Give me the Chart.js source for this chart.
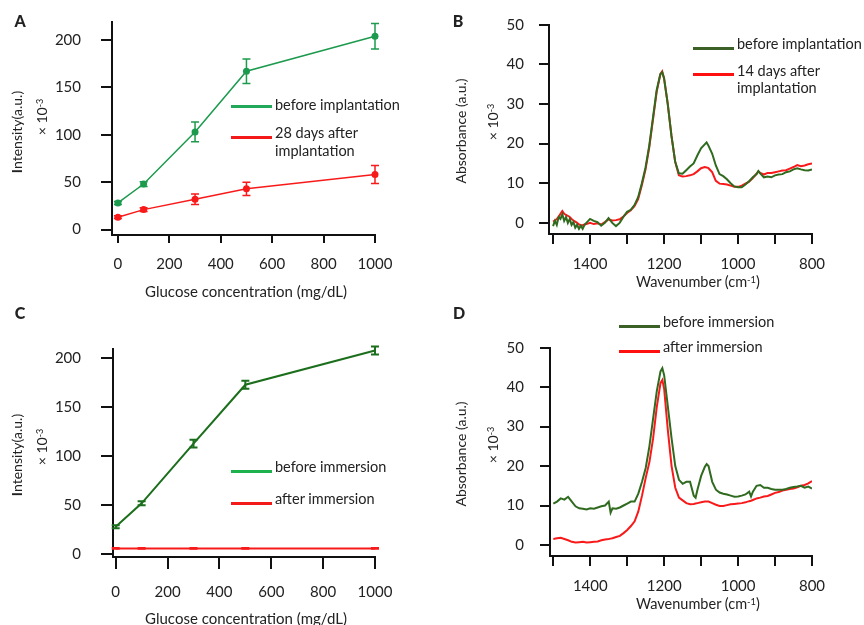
<!DOCTYPE html>
<html>
<head>
<meta charset="utf-8">
<script src="https://cdn.jsdelivr.net/npm/chart.js@4.4.1/dist/chart.umd.min.js"></script>
<style>
  body { margin: 0; background: #fff; }
  #wrap { position: relative; width: 864px; height: 625px; overflow: hidden; font-family: Lato, sans-serif; color: #222; }
  canvas { position: absolute; }
  .t { position: absolute; white-space: nowrap; font-size: 14.5px; line-height: 1; }
  .bar { position: absolute; height: 3px; }
  sup { font-size: 0.65em; vertical-align: 0.45em; }
</style>
</head>
<body>
<div id="wrap">
  <canvas id="chartA" width="432" height="320" style="left:0;top:-10px"></canvas>
  <canvas id="chartB" width="432" height="320" style="left:432px;top:-10px"></canvas>
  <canvas id="chartC" width="432" height="313" style="left:0;top:312px"></canvas>
  <canvas id="chartD" width="432" height="313" style="left:432px;top:312px"></canvas>
</div>
<script>
// panel A / C : glucose response
const conc = [0, 100, 300, 500, 1000];
const aBefore = [28, 48, 103, 167, 204];
const aBeforeErr = [1.5, 2.5, 10.5, 13, 13.5];
const aAfter = [13, 21, 32, 43, 58];
const aAfterErr = [1.5, 2, 5.5, 7, 9.5];
const cBefore = [28, 52, 113, 173, 208];
const cBeforeErr = [1.5, 2, 4, 4, 4];
const cAfter = [6, 6, 6, 6, 6];
const cAfterErr = [0.5, 0.5, 0.5, 0.5, 0.5];
const concTicks = [0, 200, 400, 600, 800, 1000];
const intensityTicks = [0, 50, 100, 150, 200];

// panel B : spectra before / 14 days after implantation
const bWave = [1500,1495,1490,1485,1480,1475,1470,1465,1460,1455,
  1450,1445,1440,1435,1430,1425,1420,1415,1410,1400,
  1390,1380,1370,1360,1350,1340,1330,1320,1310,1300,
  1290,1280,1270,1260,1250,1240,1230,1220,1210,1205,
  1200,1190,1180,1170,1160,1150,1140,1130,1120,1110,
  1100,1090,1085,1080,1070,1060,1050,1040,1030,1020,
  1010,1000,990,980,970,960,950,945,940,930,
  920,910,900,890,880,870,860,850,840,830,
  820,810,800];
const bBefore = [-0.8,0.5,-0.5,1.5,1,2.2,0.5,1.5,0,1,
  -0.5,0.2,-1.2,-0.5,-1.5,-0.7,-1.5,-0.5,0,1,
  0.5,0.2,-0.7,0,1.2,0,-0.8,0,1.5,2.8,
  3.3,4.5,6.5,10,14,19.5,26.5,33.5,37.5,38,
  36.5,30,22,15.5,12.5,12.4,13.3,14.2,15,17,
  18.8,19.8,20.3,19.5,17.5,14.5,12.3,11.8,11,10,
  9.2,9,9,9.7,10.5,11.5,12.3,13.1,12.5,11.5,
  11.7,11.5,12,12.2,12.3,12.8,13,13.5,13.8,13.5,
  13.3,13.2,13.5];
const bAfter = [0.3,0.6,1,1.5,2.3,3,2.3,2,1.8,1.5,
  1,0.6,0.3,0,-0.4,-0.6,-0.6,-0.4,-0.3,0,
  -0.3,-0.1,-0.4,0.2,0.9,0.6,0.7,0.9,1.6,2.5,
  3.2,4.2,6,9.5,13.5,19,26,33,37.5,38.2,
  36.5,30,22,15.5,12,11.7,11.8,12,12.3,13,
  13.8,14.1,14,13.8,12.8,10.6,9.9,9.8,9.7,9.4,
  9.1,9.1,9.4,9.9,10.4,11.3,12.4,13,12.6,12.2,
  12.6,12.6,12.8,13,13.2,13.3,13.7,14.1,14.6,14.3,
  14.5,14.8,15];

// panel D : spectra before / after immersion
const dWave = [1500,1490,1480,1470,1460,1450,1440,1430,1420,1410,
  1400,1390,1380,1370,1360,1350,1345,1340,1330,1320,
  1310,1300,1290,1280,1270,1260,1250,1240,1230,1220,
  1210,1205,1200,1190,1180,1170,1160,1150,1140,1130,
  1120,1115,1110,1100,1090,1085,1080,1070,1060,1050,
  1040,1030,1020,1010,1000,990,980,970,965,960,
  950,940,930,920,910,900,890,880,870,860,
  850,840,830,820,810,800];
const dBefore = [10.5,11,11.8,11.5,12.2,11,9.8,9.3,9.2,9,
  9.3,9.2,9.5,9.8,10,11,8.2,9.3,9.2,9.5,
  10,10.5,11,11,13,16,19.5,25,32,39,
  44,44.8,43,35,27,20,16.5,15.5,16,16,
  12.5,12,14,17.5,19.8,20.5,20,16,14,13.3,
  13,12.8,12.5,12.2,12.3,12.5,12.8,13.5,12.3,13.5,
  15,15.2,14.5,14.5,14.2,14,14,14,14.2,14.5,
  14.7,14.8,15,14.5,14.8,14.3];
const dAfter = [1.5,1.7,1.8,1.5,1.2,0.8,0.6,0.7,0.8,0.6,
  0.7,0.8,0.9,1.2,1.4,1.5,1.6,1.7,2,2.3,
  3,3.8,4.8,6,8.5,12.5,17,21,27,35,
  41,41.8,39.5,29,20,14.5,12,11.3,10.6,10.3,
  10.4,10.5,10.6,10.8,11,11,11,10.6,10.2,9.9,
  9.9,10.1,10.3,10.4,10.5,10.6,10.8,11.1,11.2,11.4,
  11.8,12,12.3,12.4,12.8,13.2,13.4,13.8,14,14.2,
  14.3,14.6,15,15.2,15.6,16.2];
const waveTicks = [1500, 1400, 1300, 1200, 1100, 1000, 900, 800];
const absTicks = [0, 10, 20, 30, 40, 50];

Chart.defaults.font.family = 'Lato, sans-serif';
Chart.defaults.font.size = 15;
Chart.defaults.color = '#222';

const pairs = (xs, ys) => xs.map((x, i) => ({ x, y: ys[i] }));

const errorBars = {
  id: 'errorBars',
  afterDatasetsDraw(chart) {
    const { ctx, scales: { x, y } } = chart;
    chart.data.datasets.forEach(ds => {
      if (!ds.errors) return;
      ctx.save();
      ctx.strokeStyle = ds.borderColor;
      ctx.lineWidth = ds.errWidth;
      ds.data.forEach((p, i) => {
        const px = x.getPixelForValue(p.x);
        const top = y.getPixelForValue(p.y + ds.errors[i]);
        const bot = y.getPixelForValue(p.y - ds.errors[i]);
        const c = ds.cap;
        ctx.beginPath();
        ctx.moveTo(px, top); ctx.lineTo(px, bot);
        ctx.moveTo(px - c, top); ctx.lineTo(px + c, top);
        ctx.moveTo(px - c, bot); ctx.lineTo(px + c, bot);
        ctx.stroke();
      });
      ctx.restore();
    });
  }
};

function axis(o) {
  return {
    type: 'linear',
    min: o.min, max: o.max, reverse: !!o.reverse,
    afterBuildTicks: s => { s.ticks = o.ticks.map(v => ({ value: v })); },
    afterFit: s => { if (o.width) s.width = o.width; if (o.height) s.height = o.height; },
    grid: { drawOnChartArea: false, drawTicks: true, tickLength: o.tl, lineWidth: 2, color: '#111' },
    border: { display: true, width: 2, color: '#111' },
    ticks: {
      padding: o.pad, maxRotation: 0, autoSkip: false,
      callback: o.label || (v => v)
    }
  };
}

function makeChart(id, datasets, xo, yo, padding) {
  return new Chart(document.getElementById(id), {
    type: 'line',
    data: { datasets },
    options: {
      responsive: false,
      animation: false,
      layout: { padding, autoPadding: false },
      plugins: { legend: { display: false }, tooltip: { enabled: false } },
      scales: { x: axis(xo), y: axis(yo) }
    },
    plugins: [errorBars]
  });
}

const pointSet = (data, errs, color, opts) => Object.assign({
  data, errors: errs, borderColor: color, backgroundColor: color,
  borderWidth: 1.5, pointRadius: 3.5, pointBorderWidth: 0, errWidth: 1.5, cap: 4, clip: false
}, opts || {});

const specSet = (data, color) => ({
  data, borderColor: color, borderWidth: 2, pointRadius: 0, tension: 0
});

const GREEN_A = '#1c9a4e', RED = '#f81a1a', GREEN_D = '#2f6a1f', GREEN_C = '#1b6e1b';

// canvases A and B start 10px above the page so the top padding is not floored
makeChart('chartA', [
  pointSet(pairs(conc, aBefore), aBeforeErr, GREEN_A),
  pointSet(pairs(conc, aAfter), aAfterErr, RED)
], { min: -23, max: 1000, ticks: concTicks, tl: 8, pad: 12, height: 40 },
   { min: -5.8, max: 219, ticks: intensityTicks, tl: 11, pad: 20, width: 112 },
   { left: 0, top: 32, right: 57, bottom: 35 });

makeChart('chartC', [
  pointSet(pairs(conc, cBefore), cBeforeErr, GREEN_C, { borderWidth: 2, pointRadius: 0, errWidth: 2, cap: 4 }),
  pointSet(pairs(conc, cAfter), cAfterErr, RED, { borderWidth: 2, pointRadius: 0, errWidth: 2, cap: 4 })
], { min: -10.4, max: 1000, ticks: concTicks, tl: 12, pad: 14, height: 40 },
   { min: -2.8, max: 209.5, ticks: intensityTicks, tl: 12, pad: 20, width: 113 },
   { left: 0, top: 37, right: 57, bottom: 28 });

const waveLabel = v => (v % 200 === 0 ? v : '');

makeChart('chartB', [
  specSet(pairs(bWave, bBefore), GREEN_D),
  specSet(pairs(bWave, bAfter), RED)
], { min: 800, max: 1511, reverse: true, ticks: waveTicks, label: waveLabel, tl: 10, pad: 11, height: 40 },
   { min: -2.8, max: 50, ticks: absTicks, tl: 10, pad: 15, width: 117 },
   { left: 0, top: 34.7, right: 52, bottom: 36 });

makeChart('chartD', [
  specSet(pairs(dWave, dBefore), GREEN_D),
  specSet(pairs(dWave, dAfter), RED)
], { min: 800, max: 1509, reverse: true, ticks: waveTicks, label: waveLabel, tl: 10, pad: 11, height: 40 },
   { min: -2.8, max: 50, ticks: absTicks, tl: 10, pad: 16, width: 118 },
   { left: 0, top: 35.7, right: 52, bottom: 29 });

// text overlays: panel letters, axis titles, legends
const wrap = document.getElementById('wrap');
function text(html, x, y, o) {
  o = o || {};
  const d = document.createElement('div');
  d.className = 't';
  d.innerHTML = html;
  d.style.left = x + 'px';
  d.style.top = y + 'px';
  if (o.size) d.style.fontSize = o.size + 'px';
  if (o.bold) d.style.fontWeight = '900';
  const tx = o.align === 'left' ? '0' : '-50%';
  d.style.transform = `translate(${tx},-50%)`;
  wrap.appendChild(d);
  return d;
}
function vtext(html, cx, cy, size) {
  const d = document.createElement('div');
  d.className = 't';
  d.innerHTML = html;
  if (size) d.style.fontSize = size + 'px';
  d.style.left = cx + 'px';
  d.style.top = cy + 'px';
  d.style.transform = 'translate(-50%,-50%) rotate(-90deg)';
  wrap.appendChild(d);
}
function bar(x1, x2, y, color) {
  const d = document.createElement('div');
  d.className = 'bar';
  d.style.left = x1 + 'px';
  d.style.width = (x2 - x1) + 'px';
  d.style.top = (y - 1.5) + 'px';
  d.style.background = color;
  wrap.appendChild(d);
}

text('A', 20, 21, { bold: true, size: 16 });
text('B', 458, 21, { bold: true, size: 16 });
text('C', 20, 313, { bold: true, size: 16 });
text('D', 459, 313, { bold: true, size: 16 });

text('Glucose concentration (mg/dL)', 246, 291, { size: 15 });
text('Glucose concentration (mg/dL)', 246, 618, { size: 15 });
text('Wavenumber (cm<sup>-1</sup>)', 698, 282, { size: 14.5 });
text('Wavenumber (cm<sup>-1</sup>)', 698, 604, { size: 14.5 });

vtext('<b>I</b>ntensity(a.u.)', 17, 132, 14);
vtext('×&nbsp;10<sup>-3</sup>', 42, 117, 14);
vtext('<b>I</b>ntensity(a.u.)', 17, 455, 14);
vtext('×&nbsp;10<sup>-3</sup>', 42, 447, 14);
vtext('Absorbance (a.u.)', 461, 131, 14);
vtext('×&nbsp;10<sup>-3</sup>', 493, 122, 14);
vtext('Absorbance (a.u.)', 461, 454, 14);
vtext('×&nbsp;10<sup>-3</sup>', 493, 445, 14);

bar(231, 272, 106, '#20a95a');
text('before implantation', 275, 105, { align: 'left' });
bar(231, 272, 137, '#f41a1a');
text('28 days after', 275, 133, { align: 'left' });
text('implantation', 275, 151, { align: 'left' });

bar(693, 734, 48, '#3c6127');
text('before implantation', 737, 44, { align: 'left' });
bar(693, 734, 74, '#ff1010');
text('14 days after', 737, 71, { align: 'left' });
text('implantation', 737, 88, { align: 'left' });

bar(231, 272, 471, '#1db24c');
text('before immersion', 275, 467, { align: 'left' });
bar(231, 272, 503, '#f41a1a');
text('after immersion', 275, 499, { align: 'left' });

bar(619, 660, 326, '#3c6127');
text('before immersion', 663, 322, { align: 'left' });
bar(619, 660, 351, '#ff1010');
text('after immersion', 663, 347, { align: 'left' });
</script>
</body>
</html>
